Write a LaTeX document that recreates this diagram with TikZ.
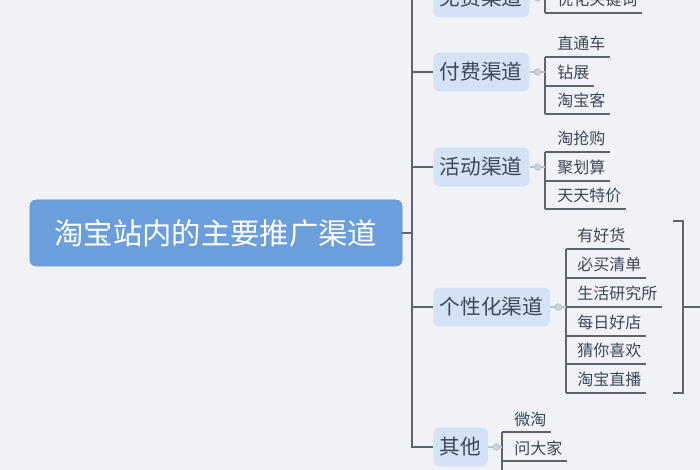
\documentclass[tikz,border=0pt]{standalone}
\usepackage{fontspec}
\newfontfamily\cjk{Noto Sans CJK SC}
\usepackage{xcolor}
\definecolor{mapBack}{HTML}{F0F2F7}
\definecolor{mapRoot}{HTML}{6A9EDC}
\definecolor{mapRootBorder}{HTML}{5C90D2}
\definecolor{mapMain}{HTML}{D4E2F6}
\definecolor{mapLine}{HTML}{5E656F}
\definecolor{mapText}{HTML}{3D4757}
\definecolor{mapDot}{HTML}{C9D3E2}
\usetikzlibrary{positioning,calc}
\tikzset{
    root/.style={
        draw=mapRootBorder,
        fill=mapRoot,
        rectangle,
        rounded corners=1.6mm,
        minimum width=279pt,
        minimum height=49.5pt,
        text=white,
        font=\cjk\fontsize{22}{24}\selectfont
    },
    channel/.style={
        fill=mapMain,
        rectangle,
        rounded corners=1.4mm,
        minimum height=29pt,
        inner xsep=5pt,
        anchor=west,
        text=mapText,
        font=\cjk\fontsize{15.5}{18}\selectfont
    },
    item/.style={
        inner sep=0pt,
        anchor=base west,
        text=mapText,
        font=\cjk\fontsize{12}{14}\selectfont
    },
    trunk/.style={
        line width=1.1pt,
        color=mapLine
    },
    branch/.style={
        line width=1pt,
        color=mapLine
    },
    fold/.style={
        line width=0.8pt,
        color=mapDot!80!gray
    },
    knob/.style={
        circle,
        draw=mapDot!70!gray,
        fill=mapDot,
        inner sep=0pt,
        minimum size=5pt
    }
}

\begin{document}
\begin{tikzpicture}[x=0.75pt, y=-0.75pt]
    \useasboundingbox (0,0) rectangle (700,470);
    \fill[mapBack] (0,0) rectangle (700,470);
    \clip (0,0) rectangle (700,470);

    % Root topic
    \node[root] (root) at (216,233) {淘宝站内的主要推广渠道};

    % Channels
    \node[channel] (free) at (433,-2) {免费渠道};
    \node[channel] (paid) at (433,72) {付费渠道};
    \node[channel] (event) at (433,167) {活动渠道};
    \node[channel] (personal) at (433,307) {个性化渠道};
    \node[channel] (other) at (433,447) {其他};

    % Trunk
    \coordinate (trunk top) at (412,-30);
    \coordinate (trunk) at (412,233);
    \draw[trunk] (root.east) -- (trunk);
    \draw[trunk] (trunk top) |- (other.west);
    \foreach \c in {free,paid,event,personal}
        \draw[trunk] (trunk |- \c.west) -- (\c.west);

    % Free channel
    \coordinate (free-0) at (545,-30);
    \foreach \t/\y [count=\i] in {优化关键词/13} {
        \coordinate (free-\i) at (545,\y);
        \node[item] (free-t\i) at (557,\y-7) {\t};
        \draw[branch] (free-\i) -- (free-\i -| free-t\i.east) -- ++(4,0);
    }
    \draw[branch] (free-0) -- (free-1);
    \draw[fold] (free.east) -- (free.east -| free-1);
    \node[knob] at ($(free.east)+(8,0)$) {};

    % Paid channel
    \foreach \t/\y [count=\i] in {直通车/57,钻展/86,淘宝客/114} {
        \coordinate (paid-\i) at (545,\y);
        \node[item] (paid-t\i) at (557,\y-7) {\t};
        \draw[branch] (paid-\i) -- (paid-\i -| paid-t\i.east) -- ++(4,0);
    }
    \draw[branch] (paid-1) -- (paid-3);
    \draw[fold] (paid.east) -- (paid.east -| paid-1);
    \node[knob] at ($(paid.east)+(8,0)$) {};

    % Event channel
    \foreach \t/\y [count=\i] in {淘抢购/152,聚划算/181,天天特价/209} {
        \coordinate (event-\i) at (545,\y);
        \node[item] (event-t\i) at (557,\y-7) {\t};
        \draw[branch] (event-\i) -- (event-\i -| event-t\i.east) -- ++(4,0);
    }
    \draw[branch] (event-1) -- (event-3);
    \draw[fold] (event.east) -- (event.east -| event-1);
    \node[knob] at ($(event.east)+(8,0)$) {};

    % Personal channel
    \foreach \t/\y [count=\i] in {有好货/249,必买清单/278,生活研究所/307,每日好店/336,猜你喜欢/364,淘宝直播/393} {
        \coordinate (personal-\i) at (566,\y);
        \node[item] (personal-t\i) at (577,\y-7) {\t};
        \draw[branch] (personal-\i) -- (personal-\i -| personal-t\i.east) -- ++(4,0);
    }
    \draw[branch] (personal-1) -- (personal-6);
    \draw[fold] (personal.east) -- (personal.east -| personal-1);
    \node[knob] at ($(personal.east)+(8,0)$) {};

    % Summary brace
    \coordinate (brace top) at (673,221);
    \coordinate (brace bottom) at (673,393);
    \coordinate (brace tip) at (700,307);
    \draw[branch] (brace top) -- ++(10,0) |- (brace bottom);
    \draw[branch] (brace tip) -- ++(-17,0);

    % Other channel
    \coordinate (other-0) at (502,480);
    \foreach \t/\y [count=\i] in {微淘/432,问大家/461} {
        \coordinate (other-\i) at (502,\y);
        \node[item] (other-t\i) at (514,\y-7) {\t};
        \draw[branch] (other-\i) -- (other-\i -| other-t\i.east) -- ++(4,0);
    }
    \draw[branch] (other-1) -- (other-0);
    \draw[fold] (other.east) -- (other.east -| other-1);
    \node[knob] at ($(other.east)+(8,0)$) {};
\end{tikzpicture}
\end{document}
